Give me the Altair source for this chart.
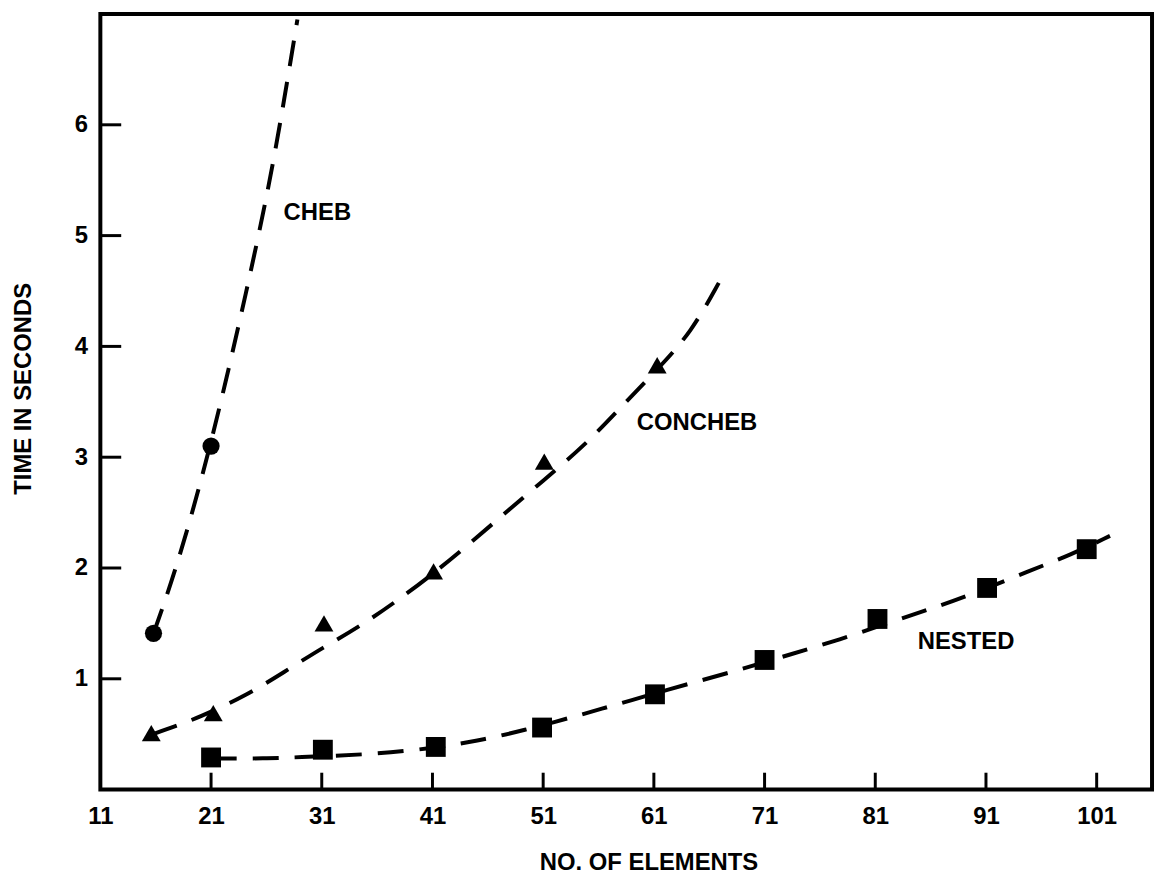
import altair as alt
import pandas as pd

# ---- data ----
cheb_x = [15.8, 21.0]
cheb_y = [1.41, 3.10]

concheb_x = [15.6, 21.2, 31.2, 41.1, 51.1, 61.3]
concheb_y = [0.51, 0.69, 1.50, 1.97, 2.96, 3.83]

nested_x = [21.0, 31.1, 41.3, 50.9, 61.1, 71.0, 81.2, 91.1, 100.1]
nested_y = [0.29, 0.36, 0.385, 0.56, 0.86, 1.17, 1.54, 1.82, 2.17]

# fitted dashed curves
cheb_curve_x = [15.8, 17.9, 21.0, 24.4, 26.3, 27.6, 28.8]
cheb_curve_y = [1.41, 2.00, 3.10, 4.58, 5.48, 6.22, 6.95]

concheb_curve_x = [15.7, 17.2, 19.9, 24.0, 27.6, 31.2, 34.5, 41.0, 47.6, 50.9, 54.8, 58.1, 61.4, 64.4, 66.9]
concheb_curve_y = [0.50, 0.55, 0.65, 0.84, 1.06, 1.29, 1.47, 1.93, 2.50, 2.78, 3.11, 3.46, 3.80, 4.13, 4.58]

nested_curve_x = [21.0, 26.1, 30.8, 35.7, 40.8, 45.1, 49.1, 54.6, 58.7, 64.7, 69.4, 73.3, 77.7, 82.6, 86.6, 90.4, 94.8, 98.7, 102.2]
nested_curve_y = [0.28, 0.28, 0.30, 0.32, 0.37, 0.44, 0.53, 0.68, 0.80, 0.97, 1.10, 1.22, 1.35, 1.52, 1.65, 1.79, 1.97, 2.12, 2.29]

label_text = ["CHEB", "CONCHEB", "NESTED"]
label_x = [30.6, 64.9, 89.2]
label_y = [5.20, 3.31, 1.33]

x_ticks = [11, 21, 31, 41, 51, 61, 71, 81, 91, 101]
x_tick_marks = [21, 31, 41, 51, 61, 71, 81, 91, 101]
y_ticks = [1, 2, 3, 4, 5, 6]

# ---- tables ----
curves = pd.concat([
    pd.DataFrame({"x": cheb_curve_x, "y": cheb_curve_y, "s": "CHEB"}),
    pd.DataFrame({"x": concheb_curve_x, "y": concheb_curve_y, "s": "CONCHEB"}),
    pd.DataFrame({"x": nested_curve_x, "y": nested_curve_y, "s": "NESTED"}),
])
circ = pd.DataFrame({"x": cheb_x, "y": cheb_y})
tri = pd.DataFrame({"x": concheb_x, "y": concheb_y})
sq = pd.DataFrame({"x": nested_x, "y": nested_y})
labels = pd.DataFrame({"x": label_x, "y": label_y, "t": label_text})
xt = pd.DataFrame({"x": x_tick_marks})
yt = pd.DataFrame({"y": y_ticks})

W, H = 1059, 781
FONT = "Liberation Sans"
TICK_FS = 24

xscale = alt.Scale(domain=[11, 106], nice=False, zero=False)
yscale = alt.Scale(domain=[0, 7], nice=False, zero=False)

xaxis = alt.Axis(values=x_ticks, tickSize=0, domain=False, grid=False,
                 labelFontSize=TICK_FS, labelFont=FONT, labelFontWeight="bold",
                 labelColor="black", labelPadding=15, labelFlush=False,
                 title="NO. OF ELEMENTS", titleFont=FONT, titleFontSize=24,
                 titleFontWeight="bold", titleColor="black",
                 titleX=552, titleY=73, titleBaseline="middle", titleAlign="center")
yaxis = alt.Axis(values=y_ticks, tickSize=0, domain=False, grid=False,
                 labelFontSize=TICK_FS, labelFont=FONT, labelFontWeight="bold",
                 labelColor="black", labelPadding=13, labelFlush=False,
                 title="TIME IN SECONDS", titleFont=FONT, titleFontSize=24,
                 titleFontWeight="bold", titleColor="black",
                 titleX=-77, titleY=377, titleAngle=270,
                 titleBaseline="middle", titleAlign="center")

X = alt.X("x:Q", scale=xscale, axis=xaxis)
Y = alt.Y("y:Q", scale=yscale, axis=yaxis)

lines = alt.Chart(curves).mark_line(
    color="black", strokeWidth=4, strokeDash=[26, 16], interpolate="basis", clip=True
).encode(x=X, y=Y, detail="s:N")

circles = alt.Chart(circ).mark_point(shape="circle", filled=True, size=300,
                                     color="black", opacity=1).encode(x=X, y=Y)
tris = alt.Chart(tri).mark_point(shape="triangle-up", filled=True, size=360,
                                 color="black", opacity=1).encode(x=X, y=Y)
sqs = alt.Chart(sq).mark_point(shape="square", filled=True, size=400,
                               color="black", opacity=1).encode(x=X, y=Y)

text = alt.Chart(labels).mark_text(font=FONT, fontSize=24, fontWeight="bold",
                                   color="black", align="center", baseline="middle"
                                   ).encode(x=X, y=Y, text="t:N")

xtick_rules = alt.Chart(xt).mark_rule(color="black", strokeWidth=3).encode(
    x=X, y=alt.value(H), y2=alt.value(H - 17))
ytick_rules = alt.Chart(yt).mark_rule(color="black", strokeWidth=3).encode(
    y=Y, x=alt.value(0), x2=alt.value(21))

chart = alt.layer(lines, xtick_rules, ytick_rules, circles, tris, sqs, text).properties(
    width=W, height=H,
    autosize=alt.AutoSizeParams(type="none"),
    padding={"left": 93, "top": 3, "right": 4, "bottom": 90},
    background="white",
).configure_view(stroke="black", strokeWidth=4).configure_axis(
    labelFontSize=TICK_FS, labelFont=FONT, labelFontWeight="bold"
)

chart.save("out.html", embed_options={"renderer": "svg", "actions": False})
